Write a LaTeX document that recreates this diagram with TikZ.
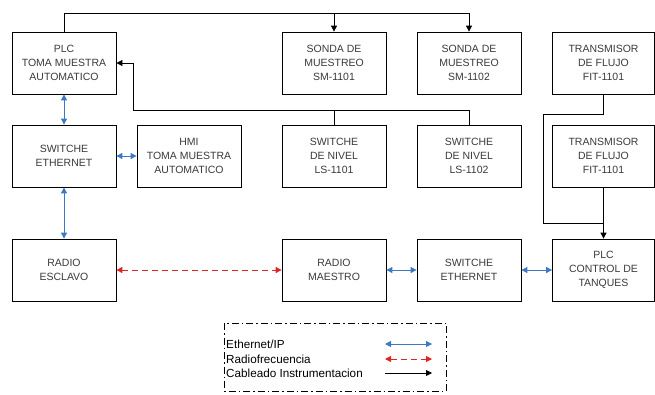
\documentclass[tikz,border=0pt]{standalone}
\usepackage{fontspec}
\setmainfont{Liberation Sans}
\usetikzlibrary{arrows.meta}
\definecolor{ethblue}{HTML}{3C78C3}
\definecolor{rfred}{HTML}{E02424}
\definecolor{txtgray}{HTML}{3A3A3A}
\tikzset{
  box/.style={draw=black, line width=0.8pt, rectangle, minimum width=104pt, minimum height=62pt,
    align=center, text=txtgray, font=\fontsize{10.5}{14}\selectfont, inner sep=0pt},
  inst/.style={draw=black, line width=0.8pt, -{Triangle[width=6pt,length=6pt]}},
  plain/.style={draw=black, line width=0.8pt},
  eth/.style={draw=ethblue, line width=0.9pt, {Triangle[width=6pt,length=6pt]}-{Triangle[width=6pt,length=6pt]}},
  rf/.style={draw=rfred, line width=0.9pt, dash pattern=on 6pt off 4pt, {Triangle[width=6pt,length=6pt]}-{Triangle[width=6pt,length=6pt]}},
  legtxt/.style={anchor=west, inner sep=0pt, font=\fontsize{11.7}{13}\selectfont, text=black},
}
\begin{document}
\begin{tikzpicture}[x=1pt, y=-1pt]
\useasboundingbox (0,0) rectangle (655,394);
% boxes
\node[box] (plc) at (64,63) {PLC\\TOMA MUESTRA\\AUTOMATICO};
\node[box] (sw1) at (64,156) {SWITCHE\\ETHERNET};
\node[box] (hmi) at (189,156) {HMI\\TOMA MUESTRA\\AUTOMATICO};
\node[box] (sm1) at (334,63) {SONDA DE\\MUESTREO\\SM-1101};
\node[box] (sm2) at (469,63) {SONDA DE\\MUESTREO\\SM-1102};
\node[box, minimum width=102pt] (ft1) at (603.5,63) {TRANSMISOR\\DE FLUJO\\FIT-1101};
\node[box] (ls1) at (334,156) {SWITCHE\\DE NIVEL\\LS-1101};
\node[box] (ls2) at (469,156) {SWITCHE\\DE NIVEL\\LS-1102};
\node[box, minimum width=102pt] (ft2) at (603.5,156) {TRANSMISOR\\DE FLUJO\\FIT-1101};
\node[box] (re) at (64,270) {RADIO\\ESCLAVO};
\node[box] (rm) at (334,270) {RADIO\\MAESTRO};
\node[box] (sw2) at (469,270) {SWITCHE\\ETHERNET};
\node[box, minimum width=102pt] (plc2) at (603.5,270) {PLC\\CONTROL DE\\TANQUES};
% instrumentation wiring
\coordinate (t) at (64,13);
\draw[inst] (plc.north) -- (t) -| (sm2.north);
\draw[inst] (sm1.north |- t) -- (sm1.north);
\coordinate (fb) at (133,110);
\draw[inst] (ls2.north) |- (fb) |- (plc.east);
\draw[plain] (ls1.north) -- (ls1.north |- fb);
\coordinate (c1) at (543,114);
\coordinate (c2) at (603.5,223);
\draw[inst] (ft1.south) |- (c1) |- (c2) -- (plc2.north);
\draw[plain] (ft2.south) -- (c2);
% ethernet
\draw[eth] (plc.south) -- (sw1.north);
\draw[eth] (sw1.east) -- (hmi.west);
\draw[eth] (sw1.south) -- (re.north);
\draw[eth] (rm.east) -- (sw2.west);
\draw[eth] (sw2.east) -- (plc2.west);
% radio
\draw[rf] (re.east) -- (rm.west);
% legend
\coordinate (lg1) at (224,323);
\coordinate (lg2) at (446,391);
\draw[black, line width=0.8pt, dash pattern=on 7pt off 3pt on 1.5pt off 3pt] (lg1) rectangle (lg2);
\node[legtxt] (l1) at (226,344) {Ethernet/IP};
\node[legtxt] (l2) at (226,359) {Radiofrecuencia};
\node[legtxt] (l3) at (226,373) {Cableado Instrumentacion};
\coordinate (a1s) at (385,344); \coordinate (a1e) at (432,344);
\coordinate (a2s) at (385,359); \coordinate (a2e) at (432,359);
\coordinate (a3s) at (385,373); \coordinate (a3e) at (432,373);
\draw[eth] (a1s) -- (a1e);
\draw[rf] (a2s) -- (a2e);
\draw[inst] (a3s) -- (a3e);
\end{tikzpicture}
\end{document}
